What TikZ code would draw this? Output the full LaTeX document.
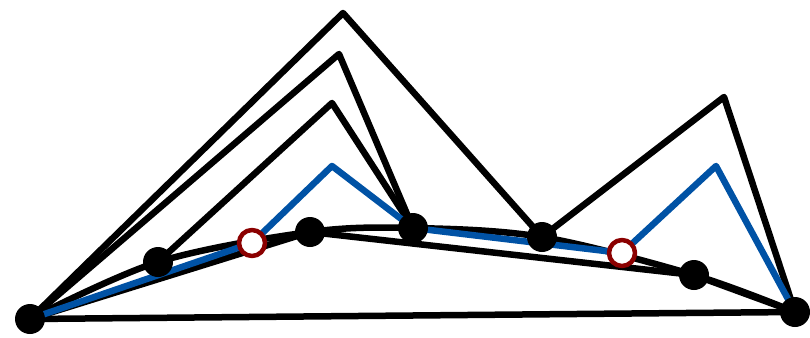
\documentclass[tikz,border=0pt]{standalone}
\definecolor{cblue}{RGB}{0,82,165}
\definecolor{cred}{RGB}{139,0,0}
\begin{document}
\begin{tikzpicture}[x=1pt,y=-1pt,line join=round,
  blk/.style={line width=6.5pt, draw=black},
  bl/.style={line width=6.5pt, draw=cblue},
  dot/.style={circle, fill=black, inner sep=0pt, minimum size=30pt},
  hole/.style={circle, fill=white, draw=cred, line width=4.5pt, inner sep=0pt, minimum size=26pt}]
\useasboundingbox (0,0) rectangle (810,337);
% control-point coordinates
\coordinate (A) at (30,319);
\coordinate (B) at (795,312);
\coordinate (d1) at (158,262);
\coordinate (d2) at (310,232);
\coordinate (d3) at (413,228);
\coordinate (d4) at (542,237);
\coordinate (d5) at (694,275);
\coordinate (r1) at (252,243);
\coordinate (r2) at (622,253);
\coordinate (t1) at (343,13);
\coordinate (t2) at (339,54);
\coordinate (t3) at (332,103);
\coordinate (t4) at (724,97);
\coordinate (b1) at (332,166);
\coordinate (b2) at (716,166);
% black polygons
\draw[blk] (A) -- (B);
\draw[blk] (A) -- (t1) -- (d4);
\draw[blk] (A) -- (t2) -- (d3);
\draw[blk] (d1) -- (t3) -- (d3);
\draw[blk] (d4) -- (t4) -- (B);
\draw[blk] (A) -- (d2) -- (d5) -- (B);
\draw[blk] plot[smooth, tension=0.55] coordinates {(A) (d1) (d2) (d3) (d4) (d5) (B)};
% blue polygon
\draw[bl] (A) -- (r1) -- (b1) -- (d3) -- (r2) -- (b2) -- (B);
% points
\node[dot] (nA) at (A) {};
\node[dot] (nB) at (B) {};
\node[dot] (n1) at (d1) {};
\node[dot] (n2) at (d2) {};
\node[dot] (n3) at (d3) {};
\node[dot] (n4) at (d4) {};
\node[dot] (n5) at (d5) {};
\node[hole] (h1) at (r1) {};
\node[hole] (h2) at (r2) {};
\end{tikzpicture}
\end{document}
